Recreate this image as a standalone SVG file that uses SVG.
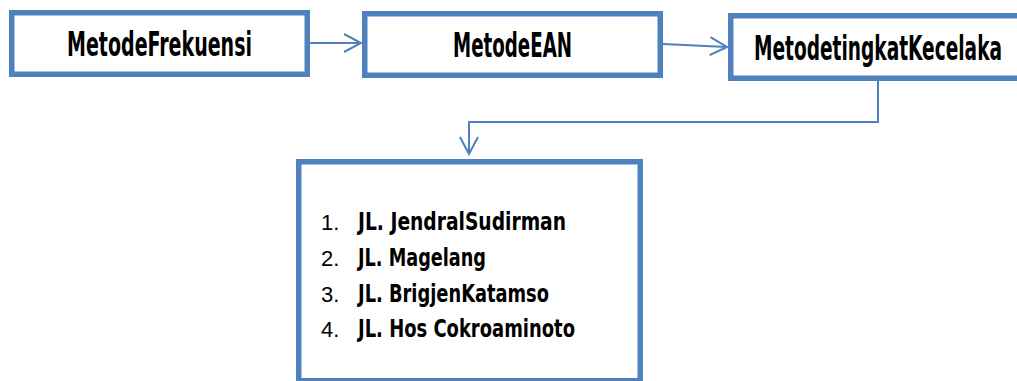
<svg xmlns="http://www.w3.org/2000/svg" width="1017" height="381" viewBox="0 0 1017 381">
<style>
.box{fill:#fff;stroke:#4F81BD;stroke-width:5.5}
.t{font-family:"DejaVu Sans Condensed","DejaVu Sans",sans-serif;font-stretch:condensed;font-weight:bold;fill:#000}
.ti{font-size:33px}
.li{font-size:24px}
.n{font-family:"Liberation Sans",Arial,sans-serif;font-size:22px;fill:#000}
.c{fill:none;stroke:#4F81BD;stroke-width:2}
</style>
<defs>
<marker id="arr" viewBox="0 0 20 20" refX="18" refY="10" markerWidth="20" markerHeight="20" markerUnits="userSpaceOnUse" orient="auto">
<path d="M1,1 L18,10 L1,19" fill="none" stroke="#4F81BD" stroke-width="2"/>
</marker>
</defs>
<g id="connectors">
<line class="c" x1="310" y1="43" x2="361" y2="43" marker-end="url(#arr)"/>
<line class="c" x1="663" y1="44" x2="727" y2="47" marker-end="url(#arr)"/>
<polyline class="c" points="878,80 878,122 469,122 469,154" marker-end="url(#arr)"/>
</g>
<g id="node1">
<rect class="box" x="11.75" y="12.75" width="295.5" height="61.5"/>
<text class="t ti" x="67" y="56" textLength="185" lengthAdjust="spacingAndGlyphs">MetodeFrekuensi</text>
</g>
<g id="node2">
<rect class="box" x="364.75" y="13.75" width="295.5" height="61.5"/>
<text class="t ti" x="453" y="57" textLength="119" lengthAdjust="spacingAndGlyphs">MetodeEAN</text>
</g>
<g id="node3">
<rect class="box" x="730.75" y="15.75" width="290" height="62.5"/>
<text class="t" font-size="20" transform="translate(754,60) scale(1,1.65)" x="0" y="0" textLength="248" lengthAdjust="spacingAndGlyphs">MetodetingkatKecelaka</text>
</g>
<g id="node4">
<rect class="box" x="298.75" y="161.75" width="341.5" height="219"/>
<text class="n" x="321" y="230">1.</text>
<text class="t li" x="358" y="230" textLength="208" lengthAdjust="spacingAndGlyphs">JL. JendralSudirman</text>
<text class="n" x="321" y="266">2.</text>
<text class="t li" x="358" y="266" textLength="128" lengthAdjust="spacingAndGlyphs">JL. Magelang</text>
<text class="n" x="321" y="302">3.</text>
<text class="t li" x="358" y="302" textLength="191" lengthAdjust="spacingAndGlyphs">JL. BrigjenKatamso</text>
<text class="n" x="321" y="337">4.</text>
<text class="t li" x="358" y="337" textLength="217" lengthAdjust="spacingAndGlyphs">JL. Hos Cokroaminoto</text>
</g>
</svg>
